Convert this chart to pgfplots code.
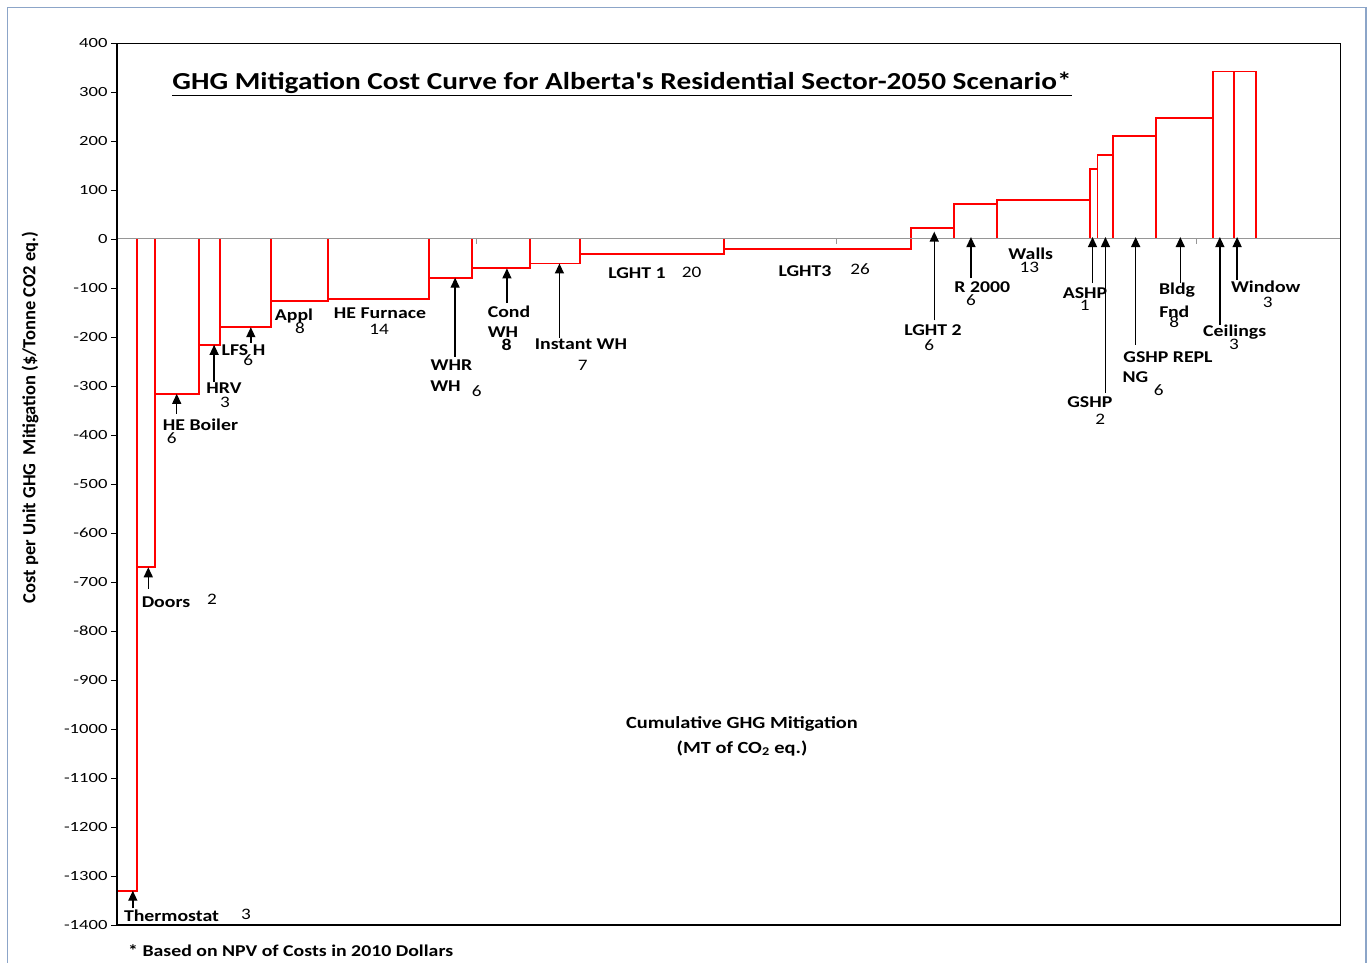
\documentclass[border=0pt]{standalone}
\usepackage{fontspec}
\setmainfont{Carlito}[FakeStretch=1.2]
\newfontfamily\tickfont{Carlito}[FakeStretch=1.33]
\newfontfamily\ylabfont{Carlito}
\newfontfamily\titlefont{Carlito}[FakeStretch=1.2, Ligatures=TeXOff]
\usepackage{pgfplots}
\pgfplotsset{compat=1.18}
\usepackage{pgfplotstable}
\usetikzlibrary{arrows.meta}
\definecolor{frameblue}{RGB}{140,165,200}
\definecolor{zerogray}{RGB}{150,150,150}

% cumulative mitigation (x) and cost (y): outline path of the cost curve
\pgfplotstableread{
x y
0 0
0 -1330
2.8 -1330
2.8 0
2.8 -670
5.3 -670
5.3 0
5.3 -316
11.4 -316
11.4 0
11.4 -216
14.3 -216
14.3 0
14.3 -180
21.4 -180
21.4 0
21.4 -126
29.3 -126
29.3 0
29.3 -123
43.4 -123
43.4 0
43.4 -79
49.4 -79
49.4 0
49.4 -60
57.4 -60
57.4 0
57.4 -50
64.4 -50
64.4 0
64.4 -30
84.4 -30
84.4 0
84.4 -21
110.4 -21
110.4 0
110.4 23
116.4 23
116.4 0
116.4 71
122.3 71
122.3 0
122.3 80
135.3 80
135.3 0
135.3 143
136.3 143
136.3 0
136.3 172
138.4 172
138.4 0
138.4 211
144.4 211
144.4 0
144.4 247
152.4 247
152.4 0
152.4 342
155.3 342
155.3 0
155.3 342
158.3 342
158.3 0
}\curve

\newcommand{\lb}{\bfseries\fontsize{16.5}{18}\selectfont}
\newcommand{\nm}{\fontsize{16}{18}\selectfont}

\begin{document}
\begin{tikzpicture}
\useasboundingbox (0pt,0pt) rectangle (1368pt,962pt);

\begin{axis}[
  at={(117pt,37pt)}, anchor=south west, scale only axis,
  width=1223pt, height=882pt,
  xmin=0, xmax=170, ymin=-1400, ymax=400,
  xtick=\empty,
  ytick={-1400,-1300,...,400},
  tick align=outside, major tick length=6pt,
  ytick pos=left,
  ytick style={black, line width=0.8pt},
  yticklabel style={font=\tickfont\fontsize{14}{16}\selectfont},
  /pgf/number format/assume math mode=true,
  /pgf/number format/1000 sep={},
  axis line style={black, line width=0.8pt},
  clip=false,
]
\addplot[red, line width=1.8pt, mark=none, line join=miter] table[x=x,y=y] {\curve};
% zero line with small ticks
\draw[zerogray, line width=1pt] (axis cs:0,0) -- (axis cs:170,0);
\draw[zerogray, line width=0.8pt] (axis cs:50,0) -- (axis cs:50,-10);
\draw[zerogray, line width=0.8pt] (axis cs:100,0) -- (axis cs:100,-10);
\draw[zerogray, line width=0.8pt] (axis cs:150,0) -- (axis cs:150,-10);
% thick left and bottom axis lines
\draw[black, line width=2.2pt] (rel axis cs:0,0) -- (rel axis cs:0,1);
\draw[black, line width=2pt] (rel axis cs:0,0) -- (rel axis cs:1,0);
% arrows
\tikzset{arr/.style={black, line width=1.4pt, -{Triangle[length=10pt,width=9pt]}}}
\draw[arr] (axis cs:2.2,-1366) -- (axis cs:2.2,-1330);
\draw[arr] (axis cs:4.35,-714) -- (axis cs:4.35,-670);
\draw[arr] (axis cs:8.3,-357) -- (axis cs:8.3,-316);
\draw[arr] (axis cs:13.5,-291) -- (axis cs:13.5,-216);
\draw[arr] (axis cs:18.6,-212) -- (axis cs:18.6,-180);
\draw[arr] (axis cs:47.0,-240) -- (axis cs:47.0,-79);
\draw[arr] (axis cs:54.2,-131) -- (axis cs:54.2,-60);
\draw[arr] (axis cs:61.5,-202) -- (axis cs:61.5,-50);
\draw[arr] (axis cs:113.6,-166) -- (axis cs:113.6,15);
\draw[arr] (axis cs:118.7,-80) -- (axis cs:118.7,4);
\draw[arr] (axis cs:135.6,-90) -- (axis cs:135.6,4);
\draw[arr] (axis cs:137.4,-314) -- (axis cs:137.4,4);
\draw[arr] (axis cs:141.6,-216) -- (axis cs:141.6,4);
\draw[arr] (axis cs:147.8,-90) -- (axis cs:147.8,4);
\draw[arr] (axis cs:153.3,-175) -- (axis cs:153.3,4);
\draw[arr] (axis cs:155.7,-83) -- (axis cs:155.7,4);
\end{axis}

\begin{scope}[x=1pt,y=1pt]
% outer frame
\draw[frameblue, line width=1.2pt] (7.5,-10) -- (7.5,954.5) -- (1366,954.5) -- (1366,-10);
% title
\node[anchor=base, font=\titlefont\bfseries\fontsize{24.4}{28}\selectfont] at (622,872.5)
  {\underline{GHG Mitigation Cost Curve for Alberta's Residential Sector-2050 Scenario*}};
% y label
\node[rotate=90, font=\ylabfont\bfseries\fontsize{18.5}{20}\selectfont] at (30,544.5)
  {Cost per Unit GHG\ \ Mitigation (\$/Tonne CO2 eq.)};
% x label
\node[anchor=base, font=\bfseries\fontsize{17}{19}\selectfont] at (742,233.5) {Cumulative GHG Mitigation};
\node[anchor=base, font=\bfseries\fontsize{17}{19}\selectfont] at (742,209) {(MT of CO\textsubscript{2} eq.)};
% footnote
\node[anchor=base west, inner sep=0pt, font=\bfseries\fontsize{16.5}{18}\selectfont] at (128,5.5) {* Based on NPV of Costs in 2010 Dollars};

% measure labels
\tikzset{every node/.append style={anchor=base, inner sep=0pt}}
\node[font=\lb] at (171.5,40.5) {Thermostat};   \node[font=\nm] at (246,43) {3};
\node[font=\lb] at (166,354.8) {Doors};         \node[font=\nm] at (212,357) {2};
\node[font=\lb] at (200.5,531.5) {HE Boiler};   \node[font=\nm] at (171.7,518) {6};
\node[font=\lb] at (224,568.5) {HRV};           \node[font=\nm] at (225,554.3) {3};
\node[font=\lb] at (243.5,606.5) {LFS H};       \node[font=\nm] at (248.3,596) {6};
\node[font=\lb] at (294,641.5) {Appl};          \node[font=\nm] at (300,628.3) {8};
\node[font=\lb] at (380,643.2) {HE Furnace};    \node[font=\nm] at (379,627.7) {14};
\node[font=\lb] at (451.5,591.5) {WHR};
\node[font=\lb] at (445.5,570.5) {WH};          \node[font=\nm] at (476.7,565.3) {6};
\node[font=\lb] at (509,644.8) {Cond};
\node[font=\lb] at (503,624.8) {WH};            \node[font=\lb] at (506.7,611.3) {8};
\node[font=\lb] at (581,612.5) {Instant WH};    \node[font=\nm] at (582.7,591.3) {7};
\node[font=\lb] at (637,683.8) {LGHT 1};        \node[font=\nm] at (691.7,684.7) {20};
\node[font=\lb] at (805,685.8) {LGHT3};         \node[font=\nm] at (860,687) {26};
\node[font=\lb] at (933,626.5) {LGHT 2};        \node[font=\nm] at (929.3,611.3) {6};
\node[font=\lb] at (982.3,669.2) {R 2000};      \node[font=\nm] at (971,656.3) {6};
\node[font=\lb] at (1030.8,702.2) {Walls};      \node[font=\nm] at (1029.3,689.3) {13};
\node[font=\lb] at (1085,663.8) {ASHP};         \node[font=\nm] at (1084.7,651) {1};
\node[font=\lb] at (1089.8,554.8) {GSHP};       \node[font=\nm] at (1100.3,537) {2};
\node[font=\lb] at (1168,599.8) {GSHP REPL};
\node[font=\lb] at (1135.5,579.8) {NG};         \node[font=\nm] at (1158.7,566.3) {6};
\node[font=\lb] at (1177,667.5) {Bldg};
\node[font=\lb] at (1174.3,644.8) {Fnd};        \node[font=\nm] at (1174.3,634.3) {8};
\node[font=\lb] at (1234.7,625.5) {Ceilings};   \node[font=\nm] at (1234,612.7) {3};
\node[font=\lb] at (1265.7,669.8) {Window};     \node[font=\nm] at (1267.7,654.7) {3};
\end{scope}
\end{tikzpicture}
\end{document}
